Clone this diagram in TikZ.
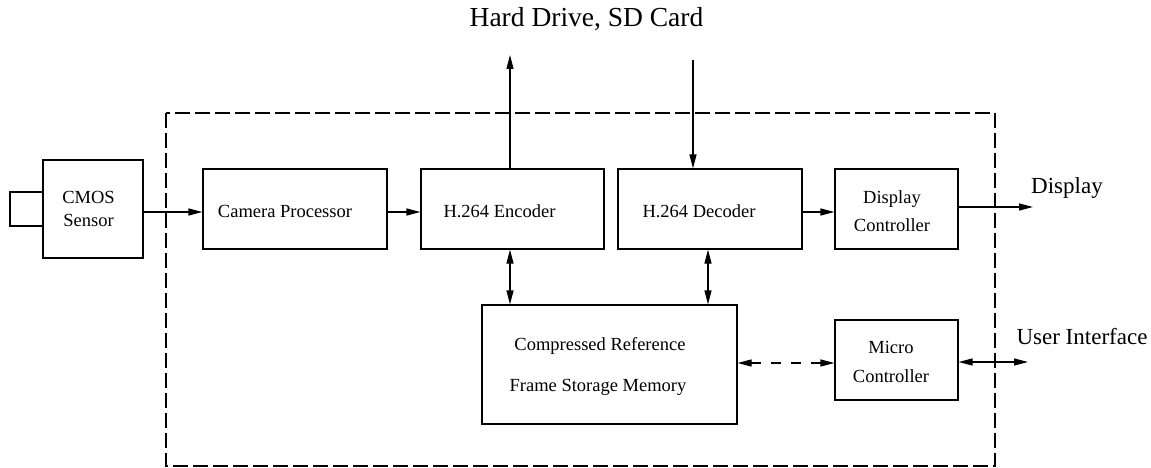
\documentclass[tikz,border=0pt]{standalone}
\usepackage{fontspec}
\setmainfont{Liberation Serif}
\usetikzlibrary{arrows.meta}
\begin{document}
\begin{tikzpicture}[x=1pt,y=-1pt,
  blk/.style={draw,line width=1.2pt,inner sep=0pt},
  txt/.style={anchor=base,inner sep=0pt,font=\fontsize{18.5}{22}\selectfont},
  big/.style={anchor=base,inner sep=0pt,font=\fontsize{23}{27}\selectfont},
  conn/.style={line width=1.2pt,-{Triangle[length=14pt,width=7pt]}},
  bconn/.style={line width=1.2pt,{Triangle[length=14pt,width=7pt]}-{Triangle[length=14pt,width=7pt]}}]
\useasboundingbox (0,0) rectangle (1151,468);
% outer dashed boundary
\draw[line width=1.2pt,dash pattern=on 15pt off 5pt] (166,113) rectangle (995,466);
% blocks
\draw[blk] (10,192) rectangle (43,226);
\node[blk,minimum width=100pt,minimum height=98pt] (cmos) at (93,209) {};
\node[blk,minimum width=184pt,minimum height=80pt] (cam) at (295,209) {};
\node[blk,minimum width=183pt,minimum height=80pt] (enc) at (512.5,209) {};
\node[blk,minimum width=184pt,minimum height=80pt] (dec) at (710,209) {};
\node[blk,minimum width=123pt,minimum height=80pt] (disp) at (896.5,209) {};
\node[blk,minimum width=255pt,minimum height=119pt] (mem) at (609.5,364.5) {};
\node[blk,minimum width=123pt,minimum height=80pt] (mic) at (896.5,360) {};
% texts
\node[txt] (t1) at (88.5,203) {CMOS};
\node[txt] (t2) at (88.5,226) {Sensor};
\node[txt] (t3) at (285,217) {Camera Processor};
\node[txt] (t4) at (499.5,217) {H.264 Encoder};
\node[txt] (t5) at (699,217) {H.264 Decoder};
\node[txt] (t6) at (892,203) {Display};
\node[txt] (t7) at (892,231) {Controller};
\node[txt] (t8) at (600,350) {Compressed Reference};
\node[txt] (t9) at (598,391) {Frame Storage Memory};
\node[txt] (t10) at (891,353) {Micro};
\node[txt] (t11) at (891,382) {Controller};
\node[big,font=\fontsize{27.5}{32}\selectfont] (hd) at (586.5,27) {Hard Drive, SD Card};
\node[big] (dl) at (1067,193) {Display};
\node[big] (ui) at (1082,344) {User Interface};
% connector endpoints
\coordinate (encup) at (510,55);
\coordinate (decin) at (693,60);
\coordinate (dispout) at (1033,207);
\coordinate (uiout) at (1028,362);
% connectors
\draw[conn] (cmos.east |- 0,212) -- (cam.west |- 0,212);
\draw[conn] (cam.east |- 0,212) -- (enc.west |- 0,212);
\draw[conn] (dec.east |- 0,212) -- (disp.west |- 0,212);
\draw[conn] (disp.east |- 0,207) -- (dispout);
\draw[conn] (enc.north -| encup) -- (encup);
\draw[conn] (decin) -- (dec.north -| decin);
\draw[bconn] (enc.south -| 510,0) -- (mem.north -| 510,0);
\draw[bconn] (dec.south -| 708,0) -- (mem.north -| 708,0);
\draw[bconn,dash pattern=on 10pt off 10pt] (mem.east |- 0,363) -- (mic.west |- 0,363);
\draw[bconn] (mic.east |- 0,362) -- (uiout);
\end{tikzpicture}
\end{document}
